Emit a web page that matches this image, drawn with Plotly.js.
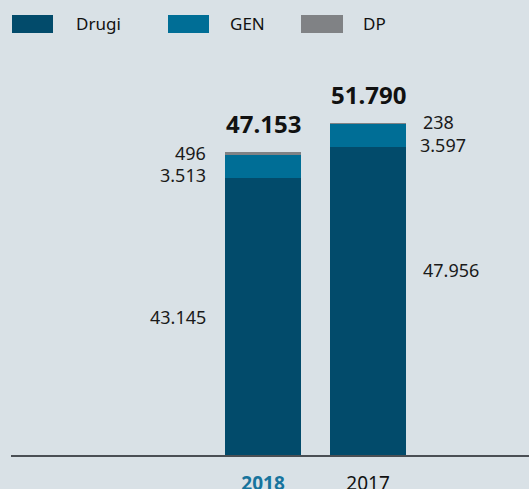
<!DOCTYPE html>
<html><head><meta charset="utf-8">
<script src="https://cdn.plot.ly/plotly-3.0.1.min.js"></script>
<style>body{margin:0;background:#d9e1e6}#c{width:529px;height:489px}</style>
</head><body><div id="c"></div>
<script>
const years = ["2018", "2017"];
const tickLabels = ["<b><span style='color:#17749d'>2018</span></b>", "2017"];
const drugi = [43145, 47956];
const gen = [3513, 3597];
const dp = [496, 238];
const totals = [47153, 51790];
const seriesNames = ["Drugi", "GEN", "DP"];
const colors = ["#024b6b", "#006e96", "#808285"];

function fmt(v){ return v.toLocaleString('de-DE'); }

const L = 11, T = 60, W = 518, H = 395;
function px2x(p){ return (p - L) / W; }
function py2y(p){ return (T + H - p) / H; }

const bw = 0.724;
const traces = [drugi, gen, dp].map((vals, i) => ({
  type: 'bar', x: years, y: vals, name: seriesNames[i],
  marker: {color: colors[i], line: {width: 0}}, width: bw,
  showlegend: false, hoverinfo: 'skip'
}));

const ann = [];
const segFont = {family: 'Noto Sans, sans-serif', size: 18, color: '#1a1a1a'};
// totals
years.forEach((yr, i) => {
  ann.push({x: i, y: totals[i], xref: 'x', yref: 'y', text: '<b>' + fmt(totals[i]) + '</b>',
    showarrow: false, yanchor: 'bottom', yshift: 10,
    font: {family: 'Noto Sans, sans-serif', size: 24, color: '#111'}});
});
// 2018 labels (left side)
ann.push({x: 0, y: drugi[0] / 2, xref: 'x', yref: 'y', text: fmt(drugi[0]), showarrow: false,
  xanchor: 'right', xshift: -55, font: segFont});
ann.push({x: 0, y: drugi[0] + gen[0], xref: 'x', yref: 'y', text: fmt(gen[0]), showarrow: false,
  xanchor: 'right', xshift: -55, yshift: -20, font: segFont});
ann.push({x: 0, y: totals[0], xref: 'x', yref: 'y', text: fmt(dp[0]), showarrow: false,
  xanchor: 'right', xshift: -55, yshift: -1, font: segFont});
// 2017 labels (right side)
ann.push({x: 1, y: drugi[1] * 0.6, xref: 'x', yref: 'y', text: fmt(drugi[1]), showarrow: false,
  xanchor: 'left', xshift: 53, font: segFont});
ann.push({x: 1, y: drugi[1] + gen[1], xref: 'x', yref: 'y', text: fmt(gen[1]), showarrow: false,
  xanchor: 'left', xshift: 50, yshift: -21, font: segFont});
ann.push({x: 1, y: totals[1], xref: 'x', yref: 'y', text: fmt(dp[1]), showarrow: false,
  xanchor: 'left', xshift: 53, yshift: 1, font: segFont});

// custom legend
const shapes = [];
const legX = [[12, 53, 74], [168, 209, 228], [301, 343, 361]];
seriesNames.forEach((n, i) => {
  shapes.push({type: 'rect', xref: 'paper', yref: 'paper',
    x0: px2x(legX[i][0]), x1: px2x(legX[i][1]), y0: py2y(33), y1: py2y(15),
    fillcolor: colors[i], line: {width: 0}});
  ann.push({xref: 'paper', yref: 'paper', x: px2x(legX[i][2]), y: py2y(24), text: n,
    showarrow: false, xanchor: 'left', yanchor: 'middle',
    font: {family: 'Noto Sans, sans-serif', size: 17, color: '#111'}});
});

const layout = {
  width: 529, height: 489,
  margin: {l: L, r: 0, t: T, b: 489 - T - H, pad: 0},
  paper_bgcolor: '#d9e1e6', plot_bgcolor: '#d9e1e6',
  barmode: 'stack', showlegend: false,
  xaxis: {type: 'category', range: [-2.4, 2.533], tickvals: years, ticktext: tickLabels,
    showline: true, linecolor: '#4a4f54', linewidth: 2, showgrid: false, zeroline: false,
    ticks: '', ticklabelstandoff: 10,
    tickfont: {family: 'Noto Sans, sans-serif', size: 19, color: '#111'}, fixedrange: true},
  yaxis: {range: [0, H / 0.00642], visible: false, showgrid: false, zeroline: false, fixedrange: true},
  annotations: ann, shapes: shapes
};
Plotly.newPlot('c', traces, layout, {displayModeBar: false, staticPlot: true});
</script></body></html>
